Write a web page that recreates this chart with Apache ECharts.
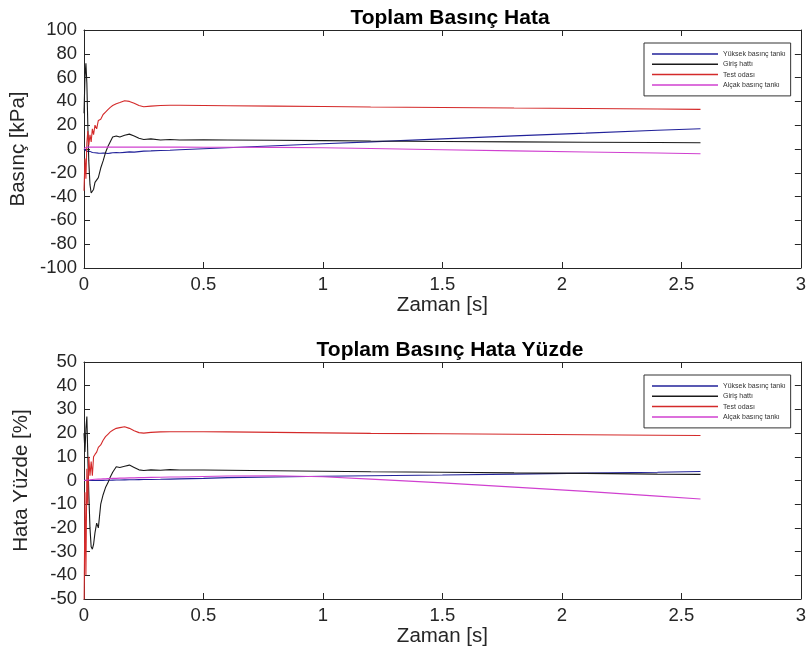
<!DOCTYPE html>
<html>
<head>
<meta charset="utf-8">
<script src="https://cdn.jsdelivr.net/npm/echarts@6/dist/echarts.min.js"></script>
<style>html,body{margin:0;padding:0;background:#fff;}#c{width:809px;height:657px;}</style>
</head>
<body>
<div id="c"></div>
<script>
const zaman = [0, 0.004, 0.008, 0.012, 0.016, 0.02, 0.025, 0.03, 0.035, 0.04, 0.046, 0.053, 0.06, 0.07, 0.08, 0.09, 0.1, 0.11, 0.12, 0.135, 0.15, 0.17, 0.19, 0.21, 0.23, 0.25, 0.28, 0.32, 0.36, 0.4, 0.5, 0.6, 0.8, 1.0, 1.2, 1.5, 1.8, 2.1, 2.4, 2.58];
const seriesNames = ['Yüksek basınç tankı', 'Giriş hattı', 'Test odası', 'Alçak basınç tankı'];
// Top: Toplam Basınç Hata [kPa]
const yuksekTop = [0, -1, -1.5, -2, -2, -2.5, -2, -2.5, -3, -3, -3.2, -3, -3.5, -3.6, -3.4, -3.5, -3.8, -3.5, -3.2, -3, -3.2, -2.8, -2.4, -2.6, -2.2, -1.8, -1.6, -1.3, -1, -0.6, 0.2, 1, 2.7, 4.4, 6, 8.5, 11, 13.3, 15.7, 17];
const girisTop = [30, 60, 72, 55, 20, -10, -30, -37, -38, -34, -28, -29, -24, -16, -10, -3, 2, 6, 10, 11, 10, 11.5, 12.5, 11, 9, 8, 8.5, 7.5, 8, 7.6, 7.8, 7.6, 7.3, 7, 6.7, 6.3, 6, 5.7, 5.4, 5.2];
const testTop = [-35, -8, -25, 5, 15, 3, 12, 6, 17, 12, 20, 17, 24, 25, 29, 31, 33, 35, 36.5, 38, 39, 40.5, 40, 38.5, 36.5, 35.5, 36, 36.5, 36.8, 36.8, 36.6, 36.4, 36, 35.7, 35.3, 34.9, 34.4, 34, 33.6, 33.3];
const alcakTop = [0.5, 1, 1.5, 1.5, 1.5, 1.6, 1.6, 1.6, 1.6, 1.6, 1.6, 1.6, 1.6, 1.6, 1.6, 1.6, 1.6, 1.6, 1.6, 1.6, 1.6, 1.6, 1.6, 1.6, 1.6, 1.6, 1.6, 1.6, 1.6, 1.6, 1.5, 1.5, 1.4, 1.0, 0.4, -0.6, -1.6, -2.5, -3.4, -4];
// Bottom: Toplam Basınç Hata Yüzde [%]
const yuksekBot = [0, 0, 0, 0, 0, 0, 0, 0, 0, 0, 0, 0, 0, 0, 0.05, 0.1, 0.1, 0.1, 0.15, 0.2, 0.2, 0.25, 0.3, 0.3, 0.35, 0.4, 0.45, 0.5, 0.6, 0.7, 0.9, 1.2, 1.5, 1.8, 2.0, 2.3, 2.7, 3.1, 3.5, 3.8];
const girisBot = [20, 12, 22, 27, 10, -5, -20, -28, -29, -27, -22, -18, -20, -10, -6, -3, -1, 1.5, 3.5, 5.8, 5.5, 6, 6.5, 5.5, 4.5, 4.2, 4.5, 4.3, 4.6, 4.4, 4.4, 4.3, 4.1, 3.9, 3.7, 3.5, 3.2, 3, 2.7, 2.6];
const testBot = [-60, -5, -40, 5, -10, 10, 2, 8, 2, 10, 11, 12, 14, 15, 17, 18.5, 19.5, 20.5, 21.2, 22, 22.3, 22.7, 22, 21, 20.2, 20, 20.3, 20.5, 20.6, 20.6, 20.6, 20.5, 20.3, 20.1, 19.9, 19.7, 19.5, 19.3, 19.1, 19];
const alcakBot = [0, 0.1, 0.2, 0.2, 0.3, 0.3, 0.3, 0.4, 0.4, 0.4, 0.5, 0.5, 0.6, 0.6, 0.7, 0.7, 0.8, 0.8, 0.9, 0.9, 1.0, 1.0, 1.1, 1.1, 1.2, 1.2, 1.3, 1.4, 1.5, 1.5, 1.7, 1.9, 2.0, 1.6, 0.6, -1, -2.8, -4.6, -6.6, -7.8];

const colors = ['#22229a', '#1a1a1a', '#d42a2a', '#d040d0'];
const FONT = 'Liberation Sans, Arial, sans-serif';
const AX = '#262626';

function pairs(v) { return zaman.map((t, i) => [t, v[i]]); }

function xAx(gi, top) {
  return {
    type: 'value', gridIndex: gi, min: 0, max: 3, interval: 0.5,
    position: top ? 'top' : 'bottom',
    axisLine: { show: true, onZero: false, lineStyle: { color: AX, width: 1 } },
    axisTick: { show: true, inside: true, length: 6, lineStyle: { color: AX } },
    axisLabel: { show: !top, fontSize: 18.5, color: AX, fontFamily: FONT, margin: 7 },
    splitLine: { show: false },
    name: top ? '' : 'Zaman [s]', nameLocation: 'middle', nameGap: 18,
    nameTextStyle: { fontSize: 20.5, color: AX, fontFamily: FONT }
  };
}
function yAx(gi, right, min, max, interval, name) {
  return {
    type: 'value', gridIndex: gi, min: min, max: max, interval: interval,
    position: right ? 'right' : 'left',
    axisLine: { show: true, onZero: false, lineStyle: { color: AX, width: 1 } },
    axisTick: { show: true, inside: true, length: 6, lineStyle: { color: AX } },
    axisLabel: { show: !right, fontSize: 18.5, color: AX, fontFamily: FONT, margin: 7 },
    splitLine: { show: false },
    name: right ? '' : name, nameLocation: 'middle', nameGap: 52,
    nameTextStyle: { fontSize: 20.5, color: AX, fontFamily: FONT }
  };
}
function legendAt(top) {
  return {
    data: seriesNames, orient: 'vertical', left: 644, top: top,
    icon: 'rect', itemWidth: 66, itemHeight: 1.5, itemGap: 2.3,
    padding: [7, 5, 7, 8],
    borderColor: '#333', borderWidth: 1, backgroundColor: '#fff',
    textStyle: { fontSize: 7, lineHeight: 8, color: '#333', fontFamily: FONT },
    selectedMode: false
  };
}
const topVals = [yuksekTop, girisTop, testTop, alcakTop];
const botVals = [yuksekBot, girisBot, testBot, alcakBot];
const series = [];
topVals.forEach((v, i) => series.push({ name: seriesNames[i], type: 'line', xAxisIndex: 0, yAxisIndex: 0, data: pairs(v), showSymbol: false, symbol: 'none', lineStyle: { width: 1.1, color: colors[i] }, itemStyle: { color: colors[i] }, animation: false, clip: true }));
botVals.forEach((v, i) => series.push({ name: seriesNames[i], type: 'line', xAxisIndex: 2, yAxisIndex: 2, data: pairs(v), showSymbol: false, symbol: 'none', lineStyle: { width: 1.1, color: colors[i] }, itemStyle: { color: colors[i] }, animation: false, clip: true }));

const chart = echarts.init(document.getElementById('c'));
chart.setOption({
  backgroundColor: '#fff',
  animation: false,
  title: [
    { text: 'Toplam Basınç Hata', left: 445, top: 3, textAlign: 'center', textStyle: { fontSize: 21, fontWeight: 'bold', color: '#000', fontFamily: FONT } },
    { text: 'Toplam Basınç Hata Yüzde', left: 445, top: 335, textAlign: 'center', textStyle: { fontSize: 21, fontWeight: 'bold', color: '#000', fontFamily: FONT } }
  ],
  legend: [legendAt(43), legendAt(375)],
  grid: [
    { left: 84, top: 30, width: 723, height: 238 },
    { left: 84, top: 362, width: 723, height: 237 }
  ],
  xAxis: [xAx(0, false), xAx(0, true), xAx(1, false), xAx(1, true)],
  yAxis: [yAx(0, false, -100, 100, 20, 'Basınç [kPa]'), yAx(0, true, -100, 100, 20, ''), yAx(1, false, -50, 50, 10, 'Hata Yüzde [%]'), yAx(1, true, -50, 50, 10, '')],
  series: series
});
</script>
</body>
</html>
